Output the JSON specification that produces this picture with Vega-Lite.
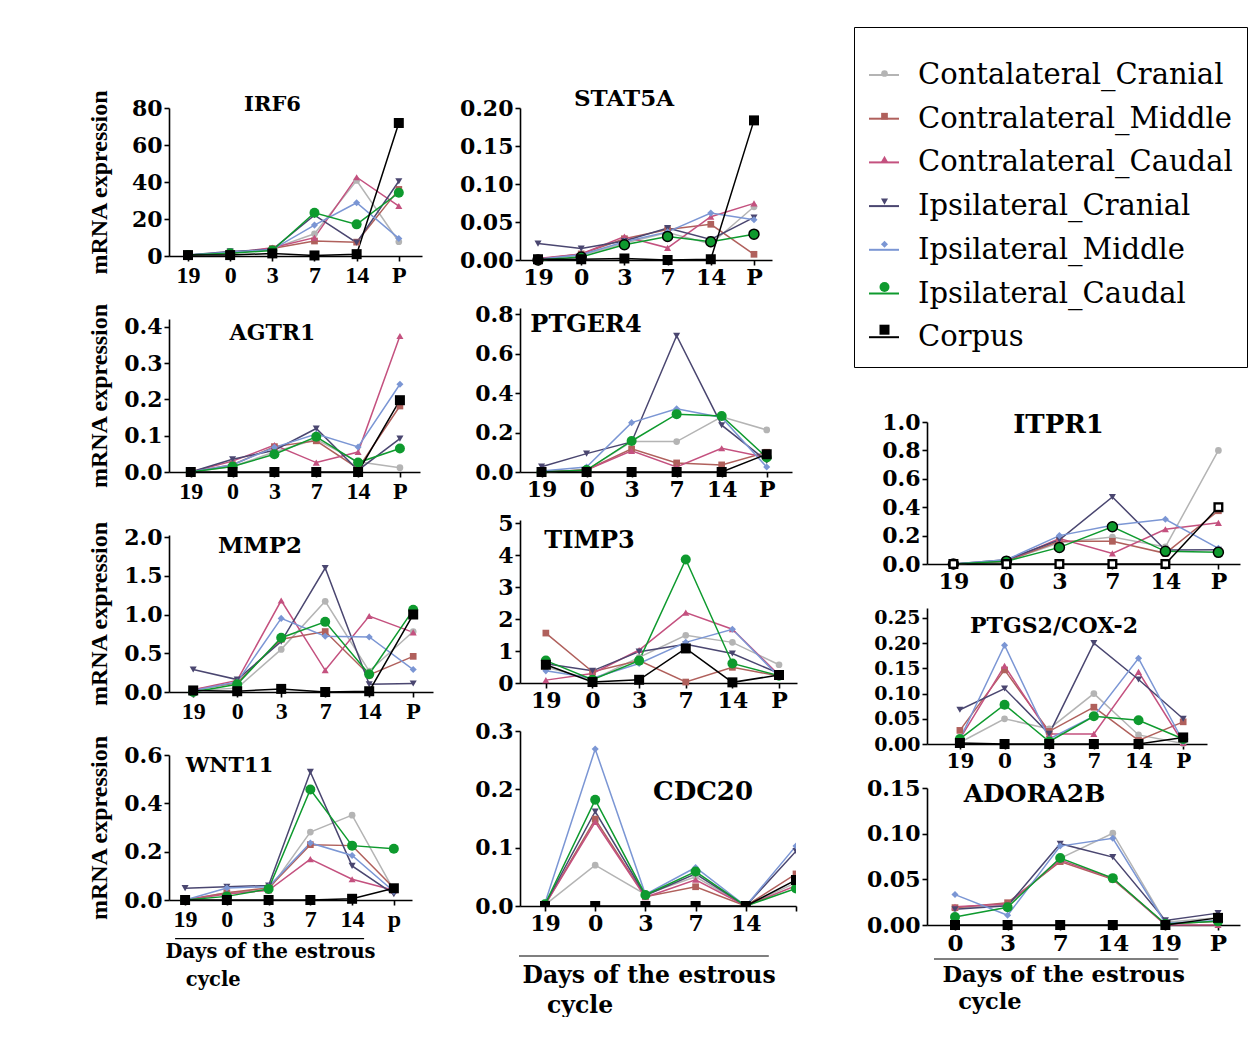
{
"$schema":"https://vega.github.io/schema/vega-lite/v6.json",
"padding":{"left":86,"top":26,"right":0,"bottom":0},
"background":"white",
"config":{
 "view":{"stroke":null},
 "font":"DejaVu Serif",
 "axis":{"grid":false,"domainColor":"black","domainWidth":1.6,"tickColor":"black","tickWidth":1.6,"tickSize":5,"labelColor":"black","labelFont":"DejaVu Serif","labelFontWeight":"bold","titleColor":"black","titleFontWeight":"bold","labelPadding":2},
 "title":{"font":"DejaVu Serif","fontWeight":"bold","color":"black","offset":0,"baseline":"alphabetic","anchor":"middle"},
 "legend":{"orient":"none","legendY":-81,"labelFont":"DejaVu Serif","labelFontSize":29,"labelColor":"black","labelLimit":0,"rowPadding":12.7,"padding":14,"titleFontSize":10,"titlePadding":8,"labelOffset":18}
},
"datasets":{
"IRF6":[
{"day":"19","series":"Contalateral_Cranial","value":0.5},{"day":"0","series":"Contalateral_Cranial","value":1.5},{"day":"3","series":"Contalateral_Cranial","value":4},{"day":"7","series":"Contalateral_Cranial","value":12},{"day":"14","series":"Contalateral_Cranial","value":40.8},{"day":"P","series":"Contalateral_Cranial","value":7.7},
{"day":"19","series":"Contralateral_Middle","value":0.5},{"day":"0","series":"Contralateral_Middle","value":1.5},{"day":"3","series":"Contralateral_Middle","value":4},{"day":"7","series":"Contralateral_Middle","value":8.1},{"day":"14","series":"Contralateral_Middle","value":7.5},{"day":"P","series":"Contralateral_Middle","value":36},
{"day":"19","series":"Contralateral_Caudal","value":0.5},{"day":"0","series":"Contralateral_Caudal","value":1.5},{"day":"3","series":"Contralateral_Caudal","value":4.5},{"day":"7","series":"Contralateral_Caudal","value":9.9},{"day":"14","series":"Contralateral_Caudal","value":42.6},{"day":"P","series":"Contralateral_Caudal","value":27},
{"day":"19","series":"Ipsilateral_Cranial","value":0.5},{"day":"0","series":"Ipsilateral_Cranial","value":2.5},{"day":"3","series":"Ipsilateral_Cranial","value":3.5},{"day":"7","series":"Ipsilateral_Cranial","value":22.1},{"day":"14","series":"Ipsilateral_Cranial","value":7.2},{"day":"P","series":"Ipsilateral_Cranial","value":40.4},
{"day":"19","series":"Ipsilateral_Middle","value":0.5},{"day":"0","series":"Ipsilateral_Middle","value":2},{"day":"3","series":"Ipsilateral_Middle","value":3.5},{"day":"7","series":"Ipsilateral_Middle","value":16.7},{"day":"14","series":"Ipsilateral_Middle","value":28.8},{"day":"P","series":"Ipsilateral_Middle","value":9.5},
{"day":"19","series":"Ipsilateral_Caudal","value":0.5},{"day":"0","series":"Ipsilateral_Caudal","value":1.5},{"day":"3","series":"Ipsilateral_Caudal","value":3},{"day":"7","series":"Ipsilateral_Caudal","value":23.4},{"day":"14","series":"Ipsilateral_Caudal","value":17.1},{"day":"P","series":"Ipsilateral_Caudal","value":34.2},
{"day":"19","series":"Corpus","value":0.5},{"day":"0","series":"Corpus","value":0.5},{"day":"3","series":"Corpus","value":1.4},{"day":"7","series":"Corpus","value":0.3},{"day":"14","series":"Corpus","value":1.0},{"day":"P","series":"Corpus","value":71.9}],
"STAT5A":[
{"day":"19","series":"Contalateral_Cranial","value":0.002},{"day":"0","series":"Contalateral_Cranial","value":0.006},{"day":"3","series":"Contalateral_Cranial","value":0.022},{"day":"7","series":"Contalateral_Cranial","value":0.036},{"day":"14","series":"Contalateral_Cranial","value":0.021},{"day":"P","series":"Contalateral_Cranial","value":0.070},
{"day":"19","series":"Contralateral_Middle","value":0.001},{"day":"0","series":"Contralateral_Middle","value":0.008},{"day":"3","series":"Contralateral_Middle","value":0.028},{"day":"7","series":"Contralateral_Middle","value":0.040},{"day":"14","series":"Contralateral_Middle","value":0.047},{"day":"P","series":"Contralateral_Middle","value":0.0075},
{"day":"19","series":"Contralateral_Caudal","value":0.002},{"day":"0","series":"Contralateral_Caudal","value":0.008},{"day":"3","series":"Contralateral_Caudal","value":0.031},{"day":"7","series":"Contralateral_Caudal","value":0.016},{"day":"14","series":"Contralateral_Caudal","value":0.057},{"day":"P","series":"Contralateral_Caudal","value":0.0745},
{"day":"19","series":"Ipsilateral_Cranial","value":0.0216},{"day":"0","series":"Ipsilateral_Cranial","value":0.015},{"day":"3","series":"Ipsilateral_Cranial","value":0.025},{"day":"7","series":"Ipsilateral_Cranial","value":0.042},{"day":"14","series":"Ipsilateral_Cranial","value":0.027},{"day":"P","series":"Ipsilateral_Cranial","value":0.056},
{"day":"19","series":"Ipsilateral_Middle","value":0.001},{"day":"0","series":"Ipsilateral_Middle","value":0.007},{"day":"3","series":"Ipsilateral_Middle","value":0.024},{"day":"7","series":"Ipsilateral_Middle","value":0.037},{"day":"14","series":"Ipsilateral_Middle","value":0.0617},{"day":"P","series":"Ipsilateral_Middle","value":0.053},
{"day":"19","series":"Ipsilateral_Caudal","value":0.0},{"day":"0","series":"Ipsilateral_Caudal","value":0.004},{"day":"3","series":"Ipsilateral_Caudal","value":0.020},{"day":"7","series":"Ipsilateral_Caudal","value":0.031},{"day":"14","series":"Ipsilateral_Caudal","value":0.024},{"day":"P","series":"Ipsilateral_Caudal","value":0.034},
{"day":"19","series":"Corpus","value":0.001},{"day":"0","series":"Corpus","value":0.001},{"day":"3","series":"Corpus","value":0.002},{"day":"7","series":"Corpus","value":0.0},{"day":"14","series":"Corpus","value":0.001},{"day":"P","series":"Corpus","value":0.1837}],
"AGTR1":[
{"day":"19","series":"Contalateral_Cranial","value":0},{"day":"0","series":"Contalateral_Cranial","value":0.015},{"day":"3","series":"Contalateral_Cranial","value":0.055},{"day":"7","series":"Contalateral_Cranial","value":0.09},{"day":"14","series":"Contalateral_Cranial","value":0.028},{"day":"P","series":"Contalateral_Cranial","value":0.012},
{"day":"19","series":"Contralateral_Middle","value":0},{"day":"0","series":"Contralateral_Middle","value":0.02},{"day":"3","series":"Contralateral_Middle","value":0.07},{"day":"7","series":"Contralateral_Middle","value":0.086},{"day":"14","series":"Contralateral_Middle","value":0.01},{"day":"P","series":"Contralateral_Middle","value":0.182},
{"day":"19","series":"Contralateral_Caudal","value":0},{"day":"0","series":"Contralateral_Caudal","value":0.03},{"day":"3","series":"Contralateral_Caudal","value":0.074},{"day":"7","series":"Contralateral_Caudal","value":0.026},{"day":"14","series":"Contralateral_Caudal","value":0.055},{"day":"P","series":"Contralateral_Caudal","value":0.375},
{"day":"19","series":"Ipsilateral_Cranial","value":0},{"day":"0","series":"Ipsilateral_Cranial","value":0.035},{"day":"3","series":"Ipsilateral_Cranial","value":0.06},{"day":"7","series":"Ipsilateral_Cranial","value":0.12},{"day":"14","series":"Ipsilateral_Cranial","value":0.005},{"day":"P","series":"Ipsilateral_Cranial","value":0.092},
{"day":"19","series":"Ipsilateral_Middle","value":0},{"day":"0","series":"Ipsilateral_Middle","value":0.02},{"day":"3","series":"Ipsilateral_Middle","value":0.068},{"day":"7","series":"Ipsilateral_Middle","value":0.105},{"day":"14","series":"Ipsilateral_Middle","value":0.069},{"day":"P","series":"Ipsilateral_Middle","value":0.242},
{"day":"19","series":"Ipsilateral_Caudal","value":0},{"day":"0","series":"Ipsilateral_Caudal","value":0.015},{"day":"3","series":"Ipsilateral_Caudal","value":0.049},{"day":"7","series":"Ipsilateral_Caudal","value":0.097},{"day":"14","series":"Ipsilateral_Caudal","value":0.026},{"day":"P","series":"Ipsilateral_Caudal","value":0.065},
{"day":"19","series":"Corpus","value":0},{"day":"0","series":"Corpus","value":0},{"day":"3","series":"Corpus","value":0},{"day":"7","series":"Corpus","value":0},{"day":"14","series":"Corpus","value":0},{"day":"P","series":"Corpus","value":0.198}],
"PTGER4":[
{"day":"19","series":"Contalateral_Cranial","value":0},{"day":"0","series":"Contalateral_Cranial","value":0.01},{"day":"3","series":"Contalateral_Cranial","value":0.154},{"day":"7","series":"Contalateral_Cranial","value":0.154},{"day":"14","series":"Contalateral_Cranial","value":0.279},{"day":"P","series":"Contalateral_Cranial","value":0.213},
{"day":"19","series":"Contralateral_Middle","value":0},{"day":"0","series":"Contralateral_Middle","value":0.01},{"day":"3","series":"Contralateral_Middle","value":0.117},{"day":"7","series":"Contralateral_Middle","value":0.046},{"day":"14","series":"Contralateral_Middle","value":0.036},{"day":"P","series":"Contralateral_Middle","value":0.1},
{"day":"19","series":"Contralateral_Caudal","value":0},{"day":"0","series":"Contralateral_Caudal","value":0.01},{"day":"3","series":"Contralateral_Caudal","value":0.107},{"day":"7","series":"Contralateral_Caudal","value":0.025},{"day":"14","series":"Contralateral_Caudal","value":0.12},{"day":"P","series":"Contralateral_Caudal","value":0.073},
{"day":"19","series":"Ipsilateral_Cranial","value":0.027},{"day":"0","series":"Ipsilateral_Cranial","value":0.093},{"day":"3","series":"Ipsilateral_Cranial","value":0.152},{"day":"7","series":"Ipsilateral_Cranial","value":0.69},{"day":"14","series":"Ipsilateral_Cranial","value":0.237},{"day":"P","series":"Ipsilateral_Cranial","value":0.056},
{"day":"19","series":"Ipsilateral_Middle","value":0.005},{"day":"0","series":"Ipsilateral_Middle","value":0.025},{"day":"3","series":"Ipsilateral_Middle","value":0.25},{"day":"7","series":"Ipsilateral_Middle","value":0.32},{"day":"14","series":"Ipsilateral_Middle","value":0.276},{"day":"P","series":"Ipsilateral_Middle","value":0.025},
{"day":"19","series":"Ipsilateral_Caudal","value":0},{"day":"0","series":"Ipsilateral_Caudal","value":0.01},{"day":"3","series":"Ipsilateral_Caudal","value":0.157},{"day":"7","series":"Ipsilateral_Caudal","value":0.293},{"day":"14","series":"Ipsilateral_Caudal","value":0.284},{"day":"P","series":"Ipsilateral_Caudal","value":0.073},
{"day":"19","series":"Corpus","value":0},{"day":"0","series":"Corpus","value":0},{"day":"3","series":"Corpus","value":0},{"day":"7","series":"Corpus","value":0},{"day":"14","series":"Corpus","value":0},{"day":"P","series":"Corpus","value":0.09}],
"MMP2":[
{"day":"19","series":"Contalateral_Cranial","value":0.02},{"day":"0","series":"Contalateral_Cranial","value":0.05},{"day":"3","series":"Contalateral_Cranial","value":0.55},{"day":"7","series":"Contalateral_Cranial","value":1.17},{"day":"14","series":"Contalateral_Cranial","value":0.27},{"day":"P","series":"Contalateral_Cranial","value":0.78},
{"day":"19","series":"Contralateral_Middle","value":0.03},{"day":"0","series":"Contralateral_Middle","value":0.12},{"day":"3","series":"Contralateral_Middle","value":0.68},{"day":"7","series":"Contralateral_Middle","value":0.78},{"day":"14","series":"Contralateral_Middle","value":0.22},{"day":"P","series":"Contralateral_Middle","value":0.46},
{"day":"19","series":"Contralateral_Caudal","value":0.03},{"day":"0","series":"Contralateral_Caudal","value":0.15},{"day":"3","series":"Contralateral_Caudal","value":1.18},{"day":"7","series":"Contralateral_Caudal","value":0.28},{"day":"14","series":"Contralateral_Caudal","value":0.98},{"day":"P","series":"Contralateral_Caudal","value":0.77},
{"day":"19","series":"Ipsilateral_Cranial","value":0.29},{"day":"0","series":"Ipsilateral_Cranial","value":0.16},{"day":"3","series":"Ipsilateral_Cranial","value":0.65},{"day":"7","series":"Ipsilateral_Cranial","value":1.6},{"day":"14","series":"Ipsilateral_Cranial","value":0.1},{"day":"P","series":"Ipsilateral_Cranial","value":0.11},
{"day":"19","series":"Ipsilateral_Middle","value":0.02},{"day":"0","series":"Ipsilateral_Middle","value":0.13},{"day":"3","series":"Ipsilateral_Middle","value":0.95},{"day":"7","series":"Ipsilateral_Middle","value":0.72},{"day":"14","series":"Ipsilateral_Middle","value":0.71},{"day":"P","series":"Ipsilateral_Middle","value":0.29},
{"day":"19","series":"Ipsilateral_Caudal","value":0.0},{"day":"0","series":"Ipsilateral_Caudal","value":0.1},{"day":"3","series":"Ipsilateral_Caudal","value":0.70},{"day":"7","series":"Ipsilateral_Caudal","value":0.905},{"day":"14","series":"Ipsilateral_Caudal","value":0.23},{"day":"P","series":"Ipsilateral_Caudal","value":1.06},
{"day":"19","series":"Corpus","value":0.02},{"day":"0","series":"Corpus","value":0.01},{"day":"3","series":"Corpus","value":0.04},{"day":"7","series":"Corpus","value":0.0},{"day":"14","series":"Corpus","value":0.01},{"day":"P","series":"Corpus","value":1.0}],
"TIMP3":[
{"day":"19","series":"Contalateral_Cranial","value":0.5},{"day":"0","series":"Contalateral_Cranial","value":0.1},{"day":"3","series":"Contalateral_Cranial","value":0.8},{"day":"7","series":"Contalateral_Cranial","value":1.49},{"day":"14","series":"Contalateral_Cranial","value":1.27},{"day":"P","series":"Contalateral_Cranial","value":0.57},
{"day":"19","series":"Contralateral_Middle","value":1.56},{"day":"0","series":"Contralateral_Middle","value":0.35},{"day":"3","series":"Contralateral_Middle","value":0.7},{"day":"7","series":"Contralateral_Middle","value":0.03},{"day":"14","series":"Contralateral_Middle","value":0.49},{"day":"P","series":"Contralateral_Middle","value":0.22},
{"day":"19","series":"Contralateral_Caudal","value":0.09},{"day":"0","series":"Contralateral_Caudal","value":0.3},{"day":"3","series":"Contralateral_Caudal","value":1.03},{"day":"7","series":"Contralateral_Caudal","value":2.2},{"day":"14","series":"Contralateral_Caudal","value":1.68},{"day":"P","series":"Contralateral_Caudal","value":0.25},
{"day":"19","series":"Ipsilateral_Cranial","value":0.6},{"day":"0","series":"Ipsilateral_Cranial","value":0.38},{"day":"3","series":"Ipsilateral_Cranial","value":0.98},{"day":"7","series":"Ipsilateral_Cranial","value":1.21},{"day":"14","series":"Ipsilateral_Cranial","value":0.92},{"day":"P","series":"Ipsilateral_Cranial","value":0.3},
{"day":"19","series":"Ipsilateral_Middle","value":0.38},{"day":"0","series":"Ipsilateral_Middle","value":0.15},{"day":"3","series":"Ipsilateral_Middle","value":0.61},{"day":"7","series":"Ipsilateral_Middle","value":1.27},{"day":"14","series":"Ipsilateral_Middle","value":1.68},{"day":"P","series":"Ipsilateral_Middle","value":0.2},
{"day":"19","series":"Ipsilateral_Caudal","value":0.7},{"day":"0","series":"Ipsilateral_Caudal","value":0.1},{"day":"3","series":"Ipsilateral_Caudal","value":0.7},{"day":"7","series":"Ipsilateral_Caudal","value":3.86},{"day":"14","series":"Ipsilateral_Caudal","value":0.61},{"day":"P","series":"Ipsilateral_Caudal","value":0.23},
{"day":"19","series":"Corpus","value":0.57},{"day":"0","series":"Corpus","value":0.03},{"day":"3","series":"Corpus","value":0.1},{"day":"7","series":"Corpus","value":1.08},{"day":"14","series":"Corpus","value":0.02},{"day":"P","series":"Corpus","value":0.25}],
"WNT11":[
{"day":"19","series":"Contalateral_Cranial","value":0},{"day":"0","series":"Contalateral_Cranial","value":0.03},{"day":"3","series":"Contalateral_Cranial","value":0.04},{"day":"7","series":"Contalateral_Cranial","value":0.281},{"day":"14","series":"Contalateral_Cranial","value":0.351},{"day":"P","series":"Contalateral_Cranial","value":0.04},
{"day":"19","series":"Contralateral_Middle","value":0},{"day":"0","series":"Contralateral_Middle","value":0.03},{"day":"3","series":"Contralateral_Middle","value":0.05},{"day":"7","series":"Contralateral_Middle","value":0.229},{"day":"14","series":"Contralateral_Middle","value":0.225},{"day":"P","series":"Contralateral_Middle","value":0.05},
{"day":"19","series":"Contralateral_Caudal","value":0},{"day":"0","series":"Contralateral_Caudal","value":0.025},{"day":"3","series":"Contralateral_Caudal","value":0.04},{"day":"7","series":"Contralateral_Caudal","value":0.169},{"day":"14","series":"Contralateral_Caudal","value":0.086},{"day":"P","series":"Contralateral_Caudal","value":0.04},
{"day":"19","series":"Ipsilateral_Cranial","value":0.049},{"day":"0","series":"Ipsilateral_Cranial","value":0.055},{"day":"3","series":"Ipsilateral_Cranial","value":0.06},{"day":"7","series":"Ipsilateral_Cranial","value":0.53},{"day":"14","series":"Ipsilateral_Cranial","value":0.141},{"day":"P","series":"Ipsilateral_Cranial","value":0.024},
{"day":"19","series":"Ipsilateral_Middle","value":0},{"day":"0","series":"Ipsilateral_Middle","value":0.05},{"day":"3","series":"Ipsilateral_Middle","value":0.055},{"day":"7","series":"Ipsilateral_Middle","value":0.236},{"day":"14","series":"Ipsilateral_Middle","value":0.184},{"day":"P","series":"Ipsilateral_Middle","value":0.035},
{"day":"19","series":"Ipsilateral_Caudal","value":0},{"day":"0","series":"Ipsilateral_Caudal","value":0.015},{"day":"3","series":"Ipsilateral_Caudal","value":0.046},{"day":"7","series":"Ipsilateral_Caudal","value":0.457},{"day":"14","series":"Ipsilateral_Caudal","value":0.225},{"day":"P","series":"Ipsilateral_Caudal","value":0.212},
{"day":"19","series":"Corpus","value":0},{"day":"0","series":"Corpus","value":0},{"day":"3","series":"Corpus","value":0},{"day":"7","series":"Corpus","value":0},{"day":"14","series":"Corpus","value":0.005},{"day":"P","series":"Corpus","value":0.0485}],
"CDC20":[
{"day":"19","series":"Contalateral_Cranial","value":0.002},{"day":"0","series":"Contalateral_Cranial","value":0.07},{"day":"3","series":"Contalateral_Cranial","value":0.02},{"day":"7","series":"Contalateral_Cranial","value":0.05},{"day":"14","series":"Contalateral_Cranial","value":0},{"day":"P","series":"Contalateral_Cranial","value":0.04},
{"day":"19","series":"Contralateral_Middle","value":0.002},{"day":"0","series":"Contralateral_Middle","value":0.149},{"day":"3","series":"Contralateral_Middle","value":0.016},{"day":"7","series":"Contralateral_Middle","value":0.033},{"day":"14","series":"Contralateral_Middle","value":0},{"day":"P","series":"Contralateral_Middle","value":0.055},
{"day":"19","series":"Contralateral_Caudal","value":0.002},{"day":"0","series":"Contralateral_Caudal","value":0.144},{"day":"3","series":"Contralateral_Caudal","value":0.015},{"day":"7","series":"Contralateral_Caudal","value":0.045},{"day":"14","series":"Contralateral_Caudal","value":0},{"day":"P","series":"Contralateral_Caudal","value":0.035},
{"day":"19","series":"Ipsilateral_Cranial","value":0.003},{"day":"0","series":"Ipsilateral_Cranial","value":0.162},{"day":"3","series":"Ipsilateral_Cranial","value":0.018},{"day":"7","series":"Ipsilateral_Cranial","value":0.055},{"day":"14","series":"Ipsilateral_Cranial","value":0},{"day":"P","series":"Ipsilateral_Cranial","value":0.094},
{"day":"19","series":"Ipsilateral_Middle","value":0.005},{"day":"0","series":"Ipsilateral_Middle","value":0.269},{"day":"3","series":"Ipsilateral_Middle","value":0.02},{"day":"7","series":"Ipsilateral_Middle","value":0.066},{"day":"14","series":"Ipsilateral_Middle","value":0},{"day":"P","series":"Ipsilateral_Middle","value":0.103},
{"day":"19","series":"Ipsilateral_Caudal","value":0.003},{"day":"0","series":"Ipsilateral_Caudal","value":0.182},{"day":"3","series":"Ipsilateral_Caudal","value":0.019},{"day":"7","series":"Ipsilateral_Caudal","value":0.059},{"day":"14","series":"Ipsilateral_Caudal","value":0},{"day":"P","series":"Ipsilateral_Caudal","value":0.03},
{"day":"19","series":"Corpus","value":0},{"day":"0","series":"Corpus","value":0},{"day":"3","series":"Corpus","value":0},{"day":"7","series":"Corpus","value":0},{"day":"14","series":"Corpus","value":0},{"day":"P","series":"Corpus","value":0.0446}],
"ITPR1":[
{"day":"19","series":"Contalateral_Cranial","value":0},{"day":"0","series":"Contalateral_Cranial","value":0.02},{"day":"3","series":"Contalateral_Cranial","value":0.15},{"day":"7","series":"Contalateral_Cranial","value":0.19},{"day":"14","series":"Contalateral_Cranial","value":0.12},{"day":"P","series":"Contalateral_Cranial","value":0.80},
{"day":"19","series":"Contralateral_Middle","value":0},{"day":"0","series":"Contralateral_Middle","value":0.02},{"day":"3","series":"Contralateral_Middle","value":0.16},{"day":"7","series":"Contralateral_Middle","value":0.16},{"day":"14","series":"Contralateral_Middle","value":0.075},{"day":"P","series":"Contralateral_Middle","value":0.375},
{"day":"19","series":"Contralateral_Caudal","value":0},{"day":"0","series":"Contralateral_Caudal","value":0.02},{"day":"3","series":"Contralateral_Caudal","value":0.18},{"day":"7","series":"Contralateral_Caudal","value":0.075},{"day":"14","series":"Contralateral_Caudal","value":0.245},{"day":"P","series":"Contralateral_Caudal","value":0.29},
{"day":"19","series":"Ipsilateral_Cranial","value":0},{"day":"0","series":"Ipsilateral_Cranial","value":0.03},{"day":"3","series":"Ipsilateral_Cranial","value":0.17},{"day":"7","series":"Ipsilateral_Cranial","value":0.472},{"day":"14","series":"Ipsilateral_Cranial","value":0.098},{"day":"P","series":"Ipsilateral_Cranial","value":0.1},
{"day":"19","series":"Ipsilateral_Middle","value":0},{"day":"0","series":"Ipsilateral_Middle","value":0.03},{"day":"3","series":"Ipsilateral_Middle","value":0.2},{"day":"7","series":"Ipsilateral_Middle","value":0.273},{"day":"14","series":"Ipsilateral_Middle","value":0.315},{"day":"P","series":"Ipsilateral_Middle","value":0.11},
{"day":"19","series":"Ipsilateral_Caudal","value":0},{"day":"0","series":"Ipsilateral_Caudal","value":0.02},{"day":"3","series":"Ipsilateral_Caudal","value":0.117},{"day":"7","series":"Ipsilateral_Caudal","value":0.262},{"day":"14","series":"Ipsilateral_Caudal","value":0.089},{"day":"P","series":"Ipsilateral_Caudal","value":0.082},
{"day":"19","series":"Corpus","value":0},{"day":"0","series":"Corpus","value":0},{"day":"3","series":"Corpus","value":0},{"day":"7","series":"Corpus","value":0},{"day":"14","series":"Corpus","value":0},{"day":"P","series":"Corpus","value":0.40}],
"PTGS2":[
{"day":"19","series":"Contalateral_Cranial","value":0.003},{"day":"0","series":"Contalateral_Cranial","value":0.05},{"day":"3","series":"Contalateral_Cranial","value":0.03},{"day":"7","series":"Contalateral_Cranial","value":0.10},{"day":"14","series":"Contalateral_Cranial","value":0.018},{"day":"P","series":"Contalateral_Cranial","value":0.001},
{"day":"19","series":"Contralateral_Middle","value":0.027},{"day":"0","series":"Contralateral_Middle","value":0.147},{"day":"3","series":"Contralateral_Middle","value":0.025},{"day":"7","series":"Contralateral_Middle","value":0.073},{"day":"14","series":"Contralateral_Middle","value":0.007},{"day":"P","series":"Contralateral_Middle","value":0.044},
{"day":"19","series":"Contralateral_Caudal","value":0.01},{"day":"0","series":"Contralateral_Caudal","value":0.155},{"day":"3","series":"Contralateral_Caudal","value":0.02},{"day":"7","series":"Contralateral_Caudal","value":0.02},{"day":"14","series":"Contralateral_Caudal","value":0.143},{"day":"P","series":"Contralateral_Caudal","value":0.002},
{"day":"19","series":"Ipsilateral_Cranial","value":0.068},{"day":"0","series":"Ipsilateral_Cranial","value":0.11},{"day":"3","series":"Ipsilateral_Cranial","value":0.02},{"day":"7","series":"Ipsilateral_Cranial","value":0.20},{"day":"14","series":"Ipsilateral_Cranial","value":0.128},{"day":"P","series":"Ipsilateral_Cranial","value":0.05},
{"day":"19","series":"Ipsilateral_Middle","value":0.01},{"day":"0","series":"Ipsilateral_Middle","value":0.196},{"day":"3","series":"Ipsilateral_Middle","value":0.01},{"day":"7","series":"Ipsilateral_Middle","value":0.055},{"day":"14","series":"Ipsilateral_Middle","value":0.17},{"day":"P","series":"Ipsilateral_Middle","value":0.005},
{"day":"19","series":"Ipsilateral_Caudal","value":0.01},{"day":"0","series":"Ipsilateral_Caudal","value":0.078},{"day":"3","series":"Ipsilateral_Caudal","value":0.005},{"day":"7","series":"Ipsilateral_Caudal","value":0.055},{"day":"14","series":"Ipsilateral_Caudal","value":0.047},{"day":"P","series":"Ipsilateral_Caudal","value":0.01},
{"day":"19","series":"Corpus","value":0.002},{"day":"0","series":"Corpus","value":0},{"day":"3","series":"Corpus","value":0},{"day":"7","series":"Corpus","value":0},{"day":"14","series":"Corpus","value":0},{"day":"P","series":"Corpus","value":0.013}],
"ADORA2B":[
{"day":"0","series":"Contalateral_Cranial","value":0.018},{"day":"3","series":"Contalateral_Cranial","value":0.022},{"day":"7","series":"Contalateral_Cranial","value":0.073},{"day":"14","series":"Contalateral_Cranial","value":0.1005},{"day":"19","series":"Contalateral_Cranial","value":0.003},{"day":"P","series":"Contalateral_Cranial","value":0.008},
{"day":"0","series":"Contralateral_Middle","value":0.019},{"day":"3","series":"Contralateral_Middle","value":0.0244},{"day":"7","series":"Contralateral_Middle","value":0.0694},{"day":"14","series":"Contralateral_Middle","value":0.05},{"day":"19","series":"Contralateral_Middle","value":0.001},{"day":"P","series":"Contralateral_Middle","value":0.004},
{"day":"0","series":"Contralateral_Caudal","value":0.02},{"day":"3","series":"Contralateral_Caudal","value":0.023},{"day":"7","series":"Contralateral_Caudal","value":0.071},{"day":"14","series":"Contralateral_Caudal","value":0.051},{"day":"19","series":"Contralateral_Caudal","value":0},{"day":"P","series":"Contralateral_Caudal","value":0.0},
{"day":"0","series":"Ipsilateral_Cranial","value":0.0173},{"day":"3","series":"Ipsilateral_Cranial","value":0.021},{"day":"7","series":"Ipsilateral_Cranial","value":0.089},{"day":"14","series":"Ipsilateral_Cranial","value":0.0743},{"day":"19","series":"Ipsilateral_Cranial","value":0.005},{"day":"P","series":"Ipsilateral_Cranial","value":0.013},
{"day":"0","series":"Ipsilateral_Middle","value":0.0333},{"day":"3","series":"Ipsilateral_Middle","value":0.0106},{"day":"7","series":"Ipsilateral_Middle","value":0.0864},{"day":"14","series":"Ipsilateral_Middle","value":0.095},{"day":"19","series":"Ipsilateral_Middle","value":0.002},{"day":"P","series":"Ipsilateral_Middle","value":0.005},
{"day":"0","series":"Ipsilateral_Caudal","value":0.0088},{"day":"3","series":"Ipsilateral_Caudal","value":0.0195},{"day":"7","series":"Ipsilateral_Caudal","value":0.0733},{"day":"14","series":"Ipsilateral_Caudal","value":0.0513},{"day":"19","series":"Ipsilateral_Caudal","value":0.001},{"day":"P","series":"Ipsilateral_Caudal","value":0.004},
{"day":"0","series":"Corpus","value":0},{"day":"3","series":"Corpus","value":0},{"day":"7","series":"Corpus","value":0},{"day":"14","series":"Corpus","value":0},{"day":"19","series":"Corpus","value":0},{"day":"P","series":"Corpus","value":0.0078}]
},
"hconcat":[
{"vconcat":[
 {"width":253,"height":148,"data":{"name":"IRF6"},
  "title":{"text":"IRF6","fontSize":21,"dx":-23,"dy":30},
  "encoding":{
   "x":{"field":"day","type":"ordinal","scale":{"type":"point","domain":["19","0","3","7","14","P"],"padding":0.5,"align":0.45},"axis":{"title":null,"labelAngle":0,"labelFont":"Liberation Serif","labelFontSize":24}},
   "y":{"field":"value","type":"quantitative","scale":{"domain":[0,80],"nice":false},"axis":{"values":[0,20,40,60,80],"format":"d","labelFontSize":22,"title":"mRNA expression","titleFont":"Liberation Serif","titleFontSize":24,"titleX":-70,"titleBaseline":"middle"}}},
  "layer":[
   {"mark":{"type":"line","strokeWidth":1.5},"encoding":{"order":{"value":null},"stroke":{"field":"series","type":"nominal","title":"\u00a0","scale":{"domain":["Contalateral_Cranial","Contralateral_Middle","Contralateral_Caudal","Ipsilateral_Cranial","Ipsilateral_Middle","Ipsilateral_Caudal","Corpus","zz"],"range":["#b4b4b4","#b0605c","#c4517f","#4a4670","#7b96d4","#0e9a2e","#000000","#ffffff"]},"legend":{"legendX":685,"values":["Contalateral_Cranial","Contralateral_Middle","Contralateral_Caudal","Ipsilateral_Cranial","Ipsilateral_Middle","Ipsilateral_Caudal","Corpus"],"strokeColor":"black","symbolSize":900,"symbolStrokeWidth":2,"zindex":1}}}},
   {"mark":{"type":"point","filled":true,"opacity":1},"encoding":{
     "fill":{"field":"series","type":"nominal","title":"\u00a0","scale":{"domain":["Contalateral_Cranial","Contralateral_Middle","Contralateral_Caudal","Ipsilateral_Cranial","Ipsilateral_Middle","Ipsilateral_Caudal","Corpus"],"range":["#b4b4b4","#b0605c","#c4517f","#4a4670","#7b96d4","#0e9a2e","#000000"]},"legend":{"legendX":685,"symbolOffset":2,"labelExpr":"''","zindex":2}},
     "shape":{"field":"series","type":"nominal","title":"\u00a0","scale":{"domain":["Contalateral_Cranial","Contralateral_Middle","Contralateral_Caudal","Ipsilateral_Cranial","Ipsilateral_Middle","Ipsilateral_Caudal","Corpus"],"range":["circle","square","triangle-up","triangle-down","diamond","circle","square"]},"legend":{"legendX":685,"symbolOffset":2,"labelExpr":"''","zindex":2}},
     "size":{"field":"series","type":"nominal","title":"\u00a0","scale":{"type":"ordinal","domain":["Contalateral_Cranial","Contralateral_Middle","Contralateral_Caudal","Ipsilateral_Cranial","Ipsilateral_Middle","Ipsilateral_Caudal","Corpus"],"range":[45,45,50,50,50,100,100]},"legend":{"legendX":685,"symbolOffset":2,"labelExpr":"''","zindex":2}}}}
  ]},
 {"width":251,"height":153,"data":{"name":"AGTR1"},
  "title":{"text":"AGTR1","fontSize":22,"dx":-22,"dy":46},
  "encoding":{
   "x":{"field":"day","type":"ordinal","scale":{"type":"point","domain":["19","0","3","7","14","P"],"padding":0.5,"align":0.52},"axis":{"title":null,"labelAngle":0,"labelFont":"Liberation Serif","labelFontSize":24}},
   "y":{"field":"value","type":"quantitative","scale":{"domain":[0,0.422],"nice":false},"axis":{"values":[0,0.1,0.2,0.3,0.4],"format":".1f","labelFontSize":22,"title":"mRNA expression","titleFont":"Liberation Serif","titleFontSize":24,"titleX":-70,"titleBaseline":"middle"}}},
  "layer":[
   {"mark":{"type":"line","strokeWidth":1.5},"encoding":{"order":{"value":null},"stroke":{"field":"series","type":"nominal","title":"\u00a0","scale":{"domain":["Contalateral_Cranial","Contralateral_Middle","Contralateral_Caudal","Ipsilateral_Cranial","Ipsilateral_Middle","Ipsilateral_Caudal","Corpus","zz"],"range":["#b4b4b4","#b0605c","#c4517f","#4a4670","#7b96d4","#0e9a2e","#000000","#ffffff"]}}}},
   {"mark":{"type":"point","filled":true,"opacity":1},"encoding":{
     "fill":{"field":"series","type":"nominal","title":"\u00a0","scale":{"domain":["Contalateral_Cranial","Contralateral_Middle","Contralateral_Caudal","Ipsilateral_Cranial","Ipsilateral_Middle","Ipsilateral_Caudal","Corpus"],"range":["#b4b4b4","#b0605c","#c4517f","#4a4670","#7b96d4","#0e9a2e","#000000"]}},
     "shape":{"field":"series","type":"nominal","title":"\u00a0","scale":{"domain":["Contalateral_Cranial","Contralateral_Middle","Contralateral_Caudal","Ipsilateral_Cranial","Ipsilateral_Middle","Ipsilateral_Caudal","Corpus"],"range":["circle","square","triangle-up","triangle-down","diamond","circle","square"]}},
     "size":{"field":"series","type":"nominal","title":"\u00a0","scale":{"type":"ordinal","domain":["Contalateral_Cranial","Contralateral_Middle","Contralateral_Caudal","Ipsilateral_Cranial","Ipsilateral_Middle","Ipsilateral_Caudal","Corpus"],"range":[45,45,50,50,50,100,100]}}}}
  ]},
 {"width":264,"height":157,"data":{"name":"MMP2"},
  "title":{"text":"MMP2","fontSize":23,"dx":-41,"dy":41},
  "encoding":{
   "x":{"field":"day","type":"ordinal","scale":{"type":"point","domain":["19","0","3","7","14","P"],"padding":0.5,"align":0.55},"axis":{"title":null,"labelAngle":0,"labelFont":"Liberation Serif","labelFontSize":24}},
   "y":{"field":"value","type":"quantitative","scale":{"domain":[0,2.026],"nice":false},"axis":{"values":[0,0.5,1,1.5,2],"format":".1f","labelFontSize":22,"title":"mRNA expression","titleFont":"Liberation Serif","titleFontSize":24,"titleX":-70,"titleBaseline":"middle"}}},
  "layer":[
   {"mark":{"type":"line","strokeWidth":1.5},"encoding":{"order":{"value":null},"stroke":{"field":"series","type":"nominal","title":"\u00a0","scale":{"domain":["Contalateral_Cranial","Contralateral_Middle","Contralateral_Caudal","Ipsilateral_Cranial","Ipsilateral_Middle","Ipsilateral_Caudal","Corpus","zz"],"range":["#b4b4b4","#b0605c","#c4517f","#4a4670","#7b96d4","#0e9a2e","#000000","#ffffff"]}}}},
   {"mark":{"type":"point","filled":true,"opacity":1},"encoding":{
     "fill":{"field":"series","type":"nominal","title":"\u00a0","scale":{"domain":["Contalateral_Cranial","Contralateral_Middle","Contralateral_Caudal","Ipsilateral_Cranial","Ipsilateral_Middle","Ipsilateral_Caudal","Corpus"],"range":["#b4b4b4","#b0605c","#c4517f","#4a4670","#7b96d4","#0e9a2e","#000000"]}},
     "shape":{"field":"series","type":"nominal","title":"\u00a0","scale":{"domain":["Contalateral_Cranial","Contralateral_Middle","Contralateral_Caudal","Ipsilateral_Cranial","Ipsilateral_Middle","Ipsilateral_Caudal","Corpus"],"range":["circle","square","triangle-up","triangle-down","diamond","circle","square"]}},
     "size":{"field":"series","type":"nominal","title":"\u00a0","scale":{"type":"ordinal","domain":["Contalateral_Cranial","Contralateral_Middle","Contralateral_Caudal","Ipsilateral_Cranial","Ipsilateral_Middle","Ipsilateral_Caudal","Corpus"],"range":[45,45,50,50,50,100,100]}}}}
  ]},
 {"width":243,"height":145,"data":{"name":"WNT11"},
  "title":{"text":"WNT11","fontSize":21,"dx":-61,"dy":45},
  "encoding":{
   "x":{"field":"day","type":"ordinal","scale":{"type":"point","domain":["19","0","3","7","14","P"],"padding":0.41,"align":0.47},"axis":{"labelAngle":0,"labelFont":"Liberation Serif","labelFontSize":24,"labelExpr":"datum.value == 'P' ? 'p' : datum.label","title":["Days of the estrous","\u200b\u00a0\u00a0\u00a0cycle"],"titleFont":"DejaVu Serif","titleFontSize":19.5,"titleAlign":"left","titleBaseline":"top","titleX":-4,"titleY":42,"titleLineHeight":28}},
   "y":{"field":"value","type":"quantitative","scale":{"domain":[0,0.6],"nice":false},"axis":{"values":[0,0.2,0.4,0.6],"format":".1f","labelFontSize":22,"title":"mRNA expression","titleFont":"Liberation Serif","titleFontSize":24,"titleX":-70,"titleBaseline":"middle"}}},
  "layer":[
   {"mark":{"type":"line","strokeWidth":1.5},"encoding":{"order":{"value":null},"stroke":{"field":"series","type":"nominal","title":"\u00a0","scale":{"domain":["Contalateral_Cranial","Contralateral_Middle","Contralateral_Caudal","Ipsilateral_Cranial","Ipsilateral_Middle","Ipsilateral_Caudal","Corpus","zz"],"range":["#b4b4b4","#b0605c","#c4517f","#4a4670","#7b96d4","#0e9a2e","#000000","#ffffff"]}}}},
   {"mark":{"type":"point","filled":true,"opacity":1},"encoding":{
     "fill":{"field":"series","type":"nominal","title":"\u00a0","scale":{"domain":["Contalateral_Cranial","Contralateral_Middle","Contralateral_Caudal","Ipsilateral_Cranial","Ipsilateral_Middle","Ipsilateral_Caudal","Corpus"],"range":["#b4b4b4","#b0605c","#c4517f","#4a4670","#7b96d4","#0e9a2e","#000000"]}},
     "shape":{"field":"series","type":"nominal","title":"\u00a0","scale":{"domain":["Contalateral_Cranial","Contralateral_Middle","Contralateral_Caudal","Ipsilateral_Cranial","Ipsilateral_Middle","Ipsilateral_Caudal","Corpus"],"range":["circle","square","triangle-up","triangle-down","diamond","circle","square"]}},
     "size":{"field":"series","type":"nominal","title":"\u00a0","scale":{"type":"ordinal","domain":["Contalateral_Cranial","Contralateral_Middle","Contralateral_Caudal","Ipsilateral_Cranial","Ipsilateral_Middle","Ipsilateral_Caudal","Corpus"],"range":[45,45,50,50,50,100,100]}}}},
   {"transform":[{"filter":"datum.series == 'Corpus' && datum.day == '19'"}],"mark":{"type":"rule","color":"black","strokeWidth":1.2,"xOffset":-10,"x2Offset":12},"encoding":{"x":{"datum":"19","type":"ordinal"},"x2":{"datum":"14"},"y":{"datum":-0.16,"type":"quantitative"}}}
  ]}
],"spacing":63,"bounds":"flush"},
{"vconcat":[
 {"width":252,"height":152,"data":{"name":"STAT5A"},
  "title":{"text":"STAT5A","fontSize":23,"dx":-22,"dy":18},
  "encoding":{
   "x":{"field":"day","type":"ordinal","scale":{"type":"point","domain":["19","0","3","7","14","P"],"padding":0.417,"align":0.5},"axis":{"title":null,"labelAngle":0,"labelFontSize":22}},
   "y":{"field":"value","type":"quantitative","scale":{"domain":[0,0.2],"nice":false},"axis":{"values":[0,0.05,0.1,0.15,0.2],"format":".2f","labelFontSize":22,"title":null}}},
  "layer":[
   {"mark":{"type":"line","strokeWidth":1.5},"encoding":{"order":{"value":null},"stroke":{"field":"series","type":"nominal","title":"\u00a0","scale":{"domain":["Contalateral_Cranial","Contralateral_Middle","Contralateral_Caudal","Ipsilateral_Cranial","Ipsilateral_Middle","Ipsilateral_Caudal","Corpus","zz"],"range":["#b4b4b4","#b0605c","#c4517f","#4a4670","#7b96d4","#0e9a2e","#000000","#ffffff"]}}}},
   {"mark":{"type":"point","filled":true,"opacity":1},"encoding":{
     "fill":{"field":"series","type":"nominal","title":"\u00a0","scale":{"domain":["Contalateral_Cranial","Contralateral_Middle","Contralateral_Caudal","Ipsilateral_Cranial","Ipsilateral_Middle","Ipsilateral_Caudal","Corpus"],"range":["#b4b4b4","#b0605c","#c4517f","#4a4670","#7b96d4","#0e9a2e","#000000"]}},
     "shape":{"field":"series","type":"nominal","title":"\u00a0","scale":{"domain":["Contalateral_Cranial","Contralateral_Middle","Contralateral_Caudal","Ipsilateral_Cranial","Ipsilateral_Middle","Ipsilateral_Caudal","Corpus"],"range":["circle","square","triangle-up","triangle-down","diamond","circle","square"]}},
     "size":{"field":"series","type":"nominal","title":"\u00a0","scale":{"type":"ordinal","domain":["Contalateral_Cranial","Contralateral_Middle","Contralateral_Caudal","Ipsilateral_Cranial","Ipsilateral_Middle","Ipsilateral_Caudal","Corpus"],"range":[45,45,50,50,50,100,100]}}}},
   {"transform":[{"filter":"datum.series == 'Ipsilateral_Caudal'"}],"mark":{"type":"point","filled":false,"shape":"circle","size":100,"stroke":"black","strokeWidth":1.5,"opacity":1}}
  ]},
 {"width":272,"height":164,"data":{"name":"PTGER4"},
  "title":{"text":"PTGER4","fontSize":24,"dx":-70,"dy":38},
  "encoding":{
   "x":{"field":"day","type":"ordinal","scale":{"type":"point","domain":["19","0","3","7","14","P"],"padding":0.52,"align":0.46},"axis":{"title":null,"labelAngle":0,"labelFontSize":22}},
   "y":{"field":"value","type":"quantitative","scale":{"domain":[0,0.8304],"nice":false},"axis":{"values":[0,0.2,0.4,0.6,0.8],"format":".1f","labelFontSize":22,"title":null}}},
  "layer":[
   {"mark":{"type":"line","strokeWidth":1.5},"encoding":{"order":{"value":null},"stroke":{"field":"series","type":"nominal","title":"\u00a0","scale":{"domain":["Contalateral_Cranial","Contralateral_Middle","Contralateral_Caudal","Ipsilateral_Cranial","Ipsilateral_Middle","Ipsilateral_Caudal","Corpus","zz"],"range":["#b4b4b4","#b0605c","#c4517f","#4a4670","#7b96d4","#0e9a2e","#000000","#ffffff"]}}}},
   {"mark":{"type":"point","filled":true,"opacity":1},"encoding":{
     "fill":{"field":"series","type":"nominal","title":"\u00a0","scale":{"domain":["Contalateral_Cranial","Contralateral_Middle","Contralateral_Caudal","Ipsilateral_Cranial","Ipsilateral_Middle","Ipsilateral_Caudal","Corpus"],"range":["#b4b4b4","#b0605c","#c4517f","#4a4670","#7b96d4","#0e9a2e","#000000"]}},
     "shape":{"field":"series","type":"nominal","title":"\u00a0","scale":{"domain":["Contalateral_Cranial","Contralateral_Middle","Contralateral_Caudal","Ipsilateral_Cranial","Ipsilateral_Middle","Ipsilateral_Caudal","Corpus"],"range":["circle","square","triangle-up","triangle-down","diamond","circle","square"]}},
     "size":{"field":"series","type":"nominal","title":"\u00a0","scale":{"type":"ordinal","domain":["Contalateral_Cranial","Contralateral_Middle","Contralateral_Caudal","Ipsilateral_Cranial","Ipsilateral_Middle","Ipsilateral_Caudal","Corpus"],"range":[45,45,50,50,50,100,100]}}}}
  ]},
 {"width":277,"height":163,"data":{"name":"TIMP3"},
  "title":{"text":"TIMP3","fontSize":24,"dx":-69,"dy":45},
  "encoding":{
   "x":{"field":"day","type":"ordinal","scale":{"type":"point","domain":["19","0","3","7","14","P"],"padding":0.47,"align":0.59},"axis":{"title":null,"labelAngle":0,"labelFontSize":22}},
   "y":{"field":"value","type":"quantitative","scale":{"domain":[0,5.094],"nice":false},"axis":{"values":[0,1,2,3,4,5],"format":"d","labelFontSize":22,"title":null}}},
  "layer":[
   {"mark":{"type":"line","strokeWidth":1.5},"encoding":{"order":{"value":null},"stroke":{"field":"series","type":"nominal","title":"\u00a0","scale":{"domain":["Contalateral_Cranial","Contralateral_Middle","Contralateral_Caudal","Ipsilateral_Cranial","Ipsilateral_Middle","Ipsilateral_Caudal","Corpus","zz"],"range":["#b4b4b4","#b0605c","#c4517f","#4a4670","#7b96d4","#0e9a2e","#000000","#ffffff"]}}}},
   {"mark":{"type":"point","filled":true,"opacity":1},"encoding":{
     "fill":{"field":"series","type":"nominal","title":"\u00a0","scale":{"domain":["Contalateral_Cranial","Contralateral_Middle","Contralateral_Caudal","Ipsilateral_Cranial","Ipsilateral_Middle","Ipsilateral_Caudal","Corpus"],"range":["#b4b4b4","#b0605c","#c4517f","#4a4670","#7b96d4","#0e9a2e","#000000"]}},
     "shape":{"field":"series","type":"nominal","title":"\u00a0","scale":{"domain":["Contalateral_Cranial","Contralateral_Middle","Contralateral_Caudal","Ipsilateral_Cranial","Ipsilateral_Middle","Ipsilateral_Caudal","Corpus"],"range":["circle","square","triangle-up","triangle-down","diamond","circle","square"]}},
     "size":{"field":"series","type":"nominal","title":"\u00a0","scale":{"type":"ordinal","domain":["Contalateral_Cranial","Contralateral_Middle","Contralateral_Caudal","Ipsilateral_Cranial","Ipsilateral_Middle","Ipsilateral_Caudal","Corpus"],"range":[45,45,50,50,50,100,100]}}}}
  ]},
 {"width":276,"height":175,"data":{"name":"CDC20"},
  "title":{"text":"CDC20","fontSize":26,"dx":45,"dy":89},
  "encoding":{
   "x":{"field":"day","type":"ordinal","scale":{"type":"point","domain":["19","0","3","7","14","P"],"padding":0.249,"align":1},"axis":{"labelAngle":0,"labelFontSize":22,"labelExpr":"datum.value == 'P' ? '' : datum.label","title":["Days of the estrous","\u200b\u00a0\u00a0\u00a0cycle"],"titleFont":"DejaVu Serif","titleFontSize":23.5,"titleAlign":"left","titleBaseline":"top","titleX":2,"titleY":57,"titleLineHeight":30}},
   "y":{"field":"value","type":"quantitative","scale":{"domain":[0,0.3],"nice":false},"axis":{"values":[0,0.1,0.2,0.3],"format":".1f","labelFontSize":22,"title":null}}},
  "layer":[
   {"mark":{"type":"line","strokeWidth":1.5,"clip":true},"encoding":{"order":{"value":null},"stroke":{"field":"series","type":"nominal","title":"\u00a0","scale":{"domain":["Contalateral_Cranial","Contralateral_Middle","Contralateral_Caudal","Ipsilateral_Cranial","Ipsilateral_Middle","Ipsilateral_Caudal","Corpus","zz"],"range":["#b4b4b4","#b0605c","#c4517f","#4a4670","#7b96d4","#0e9a2e","#000000","#ffffff"]}}}},
   {"mark":{"type":"point","filled":true,"opacity":1,"clip":true},"encoding":{
     "fill":{"field":"series","type":"nominal","title":"\u00a0","scale":{"domain":["Contalateral_Cranial","Contralateral_Middle","Contralateral_Caudal","Ipsilateral_Cranial","Ipsilateral_Middle","Ipsilateral_Caudal","Corpus"],"range":["#b4b4b4","#b0605c","#c4517f","#4a4670","#7b96d4","#0e9a2e","#000000"]}},
     "shape":{"field":"series","type":"nominal","title":"\u00a0","scale":{"domain":["Contalateral_Cranial","Contralateral_Middle","Contralateral_Caudal","Ipsilateral_Cranial","Ipsilateral_Middle","Ipsilateral_Caudal","Corpus"],"range":["circle","square","triangle-up","triangle-down","diamond","circle","square"]}},
     "size":{"field":"series","type":"nominal","title":"\u00a0","scale":{"type":"ordinal","domain":["Contalateral_Cranial","Contralateral_Middle","Contralateral_Caudal","Ipsilateral_Cranial","Ipsilateral_Middle","Ipsilateral_Caudal","Corpus"],"range":[45,45,50,50,50,100,100]}}}},
   {"transform":[{"filter":"datum.series == 'Corpus' && datum.day == '19'"}],"mark":{"type":"rule","color":"black","strokeWidth":1.2,"xOffset":-26,"x2Offset":23},"encoding":{"x":{"datum":"19","type":"ordinal"},"x2":{"datum":"14"},"y":{"datum":-0.0857,"type":"quantitative"}}}
  ]},
 {"width":320,"height":1,"data":{"values":[]},"mark":"point"}
],"spacing":48,"bounds":"flush"},
{"vconcat":[
 {"width":10,"height":270,"data":{"values":[]},"mark":"point"},
 {"width":313,"height":142,"data":{"name":"ITPR1"},
  "title":{"text":"ITPR1","fontSize":26,"dx":-25,"dy":31},
  "encoding":{
   "x":{"field":"day","type":"ordinal","scale":{"type":"point","domain":["19","0","3","7","14","P"],"padding":0.453,"align":0.55},"axis":{"title":null,"labelAngle":0,"labelFontSize":22}},
   "y":{"field":"value","type":"quantitative","scale":{"domain":[0,1],"nice":false},"axis":{"values":[0,0.2,0.4,0.6,0.8,1],"format":".1f","labelFontSize":22,"title":null}}},
  "layer":[
   {"mark":{"type":"line","strokeWidth":1.5},"encoding":{"order":{"value":null},"stroke":{"field":"series","type":"nominal","title":"\u00a0","scale":{"domain":["Contalateral_Cranial","Contralateral_Middle","Contralateral_Caudal","Ipsilateral_Cranial","Ipsilateral_Middle","Ipsilateral_Caudal","Corpus","zz"],"range":["#b4b4b4","#b0605c","#c4517f","#4a4670","#7b96d4","#0e9a2e","#000000","#ffffff"]}}}},
   {"mark":{"type":"point","filled":true,"opacity":1},"encoding":{
     "fill":{"field":"series","type":"nominal","title":"\u00a0","scale":{"domain":["Contalateral_Cranial","Contralateral_Middle","Contralateral_Caudal","Ipsilateral_Cranial","Ipsilateral_Middle","Ipsilateral_Caudal","Corpus"],"range":["#b4b4b4","#b0605c","#c4517f","#4a4670","#7b96d4","#0e9a2e","#000000"]}},
     "shape":{"field":"series","type":"nominal","title":"\u00a0","scale":{"domain":["Contalateral_Cranial","Contralateral_Middle","Contralateral_Caudal","Ipsilateral_Cranial","Ipsilateral_Middle","Ipsilateral_Caudal","Corpus"],"range":["circle","square","triangle-up","triangle-down","diamond","circle","square"]}},
     "size":{"field":"series","type":"nominal","title":"\u00a0","scale":{"type":"ordinal","domain":["Contalateral_Cranial","Contralateral_Middle","Contralateral_Caudal","Ipsilateral_Cranial","Ipsilateral_Middle","Ipsilateral_Caudal","Corpus"],"range":[45,45,50,50,50,100,100]}}}},
   {"transform":[{"filter":"datum.series == 'Ipsilateral_Caudal'"}],"mark":{"type":"point","filled":false,"shape":"circle","size":100,"stroke":"black","strokeWidth":1.5,"opacity":1}},
   {"transform":[{"filter":"datum.series == 'Corpus'"}],"mark":{"type":"point","filled":true,"shape":"square","size":28,"fill":"white","opacity":1}}
  ]},
 {"width":280,"height":136,"data":{"name":"PTGS2"},
  "title":{"text":"PTGS2/COX-2","fontSize":22,"dx":-13,"dy":34},
  "encoding":{
   "x":{"field":"day","type":"ordinal","scale":{"type":"point","domain":["19","0","3","7","14","P"],"padding":0.635,"align":0.58},"axis":{"title":null,"labelAngle":0,"labelFontSize":20}},
   "y":{"field":"value","type":"quantitative","scale":{"domain":[0,0.2698],"nice":false},"axis":{"values":[0,0.05,0.1,0.15,0.2,0.25],"format":".2f","labelFontSize":19,"title":null}}},
  "layer":[
   {"mark":{"type":"line","strokeWidth":1.5},"encoding":{"order":{"value":null},"stroke":{"field":"series","type":"nominal","title":"\u00a0","scale":{"domain":["Contalateral_Cranial","Contralateral_Middle","Contralateral_Caudal","Ipsilateral_Cranial","Ipsilateral_Middle","Ipsilateral_Caudal","Corpus","zz"],"range":["#b4b4b4","#b0605c","#c4517f","#4a4670","#7b96d4","#0e9a2e","#000000","#ffffff"]}}}},
   {"mark":{"type":"point","filled":true,"opacity":1},"encoding":{
     "fill":{"field":"series","type":"nominal","title":"\u00a0","scale":{"domain":["Contalateral_Cranial","Contralateral_Middle","Contralateral_Caudal","Ipsilateral_Cranial","Ipsilateral_Middle","Ipsilateral_Caudal","Corpus"],"range":["#b4b4b4","#b0605c","#c4517f","#4a4670","#7b96d4","#0e9a2e","#000000"]}},
     "shape":{"field":"series","type":"nominal","title":"\u00a0","scale":{"domain":["Contalateral_Cranial","Contralateral_Middle","Contralateral_Caudal","Ipsilateral_Cranial","Ipsilateral_Middle","Ipsilateral_Caudal","Corpus"],"range":["circle","square","triangle-up","triangle-down","diamond","circle","square"]}},
     "size":{"field":"series","type":"nominal","title":"\u00a0","scale":{"type":"ordinal","domain":["Contalateral_Cranial","Contralateral_Middle","Contralateral_Caudal","Ipsilateral_Cranial","Ipsilateral_Middle","Ipsilateral_Caudal","Corpus"],"range":[45,45,50,50,50,100,100]}}}}
  ]},
 {"width":313,"height":137,"data":{"name":"ADORA2B"},
  "title":{"text":"ADORA2B","fontSize":25,"dx":-49,"dy":34},
  "encoding":{
   "x":{"field":"day","type":"ordinal","scale":{"type":"point","domain":["0","3","7","14","19","P"],"padding":0.475,"align":0.56},"axis":{"labelAngle":0,"labelFontSize":23,"title":["Days of the estrous","\u200b\u00a0\u00a0cycle"],"titleFont":"DejaVu Serif","titleFontSize":22.5,"titleAlign":"left","titleBaseline":"top","titleX":15,"titleY":38,"titleLineHeight":27}},
   "y":{"field":"value","type":"quantitative","scale":{"domain":[0,0.15],"nice":false},"axis":{"values":[0,0.05,0.1,0.15],"format":".2f","labelFontSize":22,"title":null}}},
  "layer":[
   {"mark":{"type":"line","strokeWidth":1.5},"encoding":{"order":{"value":null},"stroke":{"field":"series","type":"nominal","title":"\u00a0","scale":{"domain":["Contalateral_Cranial","Contralateral_Middle","Contralateral_Caudal","Ipsilateral_Cranial","Ipsilateral_Middle","Ipsilateral_Caudal","Corpus","zz"],"range":["#b4b4b4","#b0605c","#c4517f","#4a4670","#7b96d4","#0e9a2e","#000000","#ffffff"]}}}},
   {"mark":{"type":"point","filled":true,"opacity":1},"encoding":{
     "fill":{"field":"series","type":"nominal","title":"\u00a0","scale":{"domain":["Contalateral_Cranial","Contralateral_Middle","Contralateral_Caudal","Ipsilateral_Cranial","Ipsilateral_Middle","Ipsilateral_Caudal","Corpus"],"range":["#b4b4b4","#b0605c","#c4517f","#4a4670","#7b96d4","#0e9a2e","#000000"]}},
     "shape":{"field":"series","type":"nominal","title":"\u00a0","scale":{"domain":["Contalateral_Cranial","Contralateral_Middle","Contralateral_Caudal","Ipsilateral_Cranial","Ipsilateral_Middle","Ipsilateral_Caudal","Corpus"],"range":["circle","square","triangle-up","triangle-down","diamond","circle","square"]}},
     "size":{"field":"series","type":"nominal","title":"\u00a0","scale":{"type":"ordinal","domain":["Contalateral_Cranial","Contralateral_Middle","Contralateral_Caudal","Ipsilateral_Cranial","Ipsilateral_Middle","Ipsilateral_Caudal","Corpus"],"range":[45,45,50,50,50,100,100]}}}},
   {"transform":[{"filter":"datum.series == 'Corpus' && datum.day == '0'"}],"mark":{"type":"rule","color":"black","strokeWidth":1.2,"xOffset":-21,"x2Offset":13},"encoding":{"x":{"datum":"0","type":"ordinal"},"x2":{"datum":"19"},"y":{"datum":-0.0372,"type":"quantitative"}}}
  ]}
],"spacing":44,"bounds":"flush"}
],
"spacing":26,
"bounds":"full"
}
